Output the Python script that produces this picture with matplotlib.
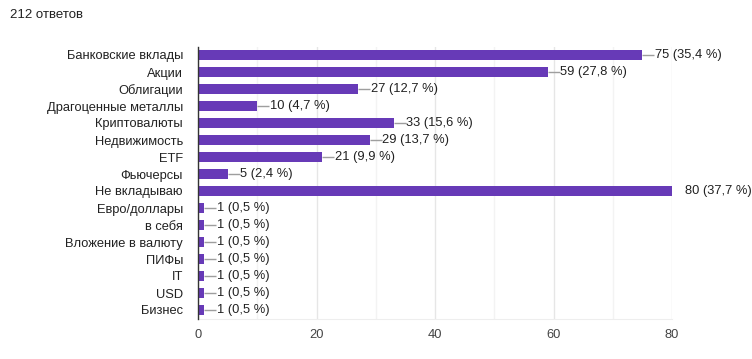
import matplotlib
matplotlib.use("Agg")
import matplotlib.pyplot as plt
from matplotlib.ticker import MultipleLocator

plt.rcParams['font.family'] = ['Liberation Sans', 'DejaVu Sans']

total_responses = 212
categories = ["Банковские вклады", "Акции", "Облигации", "Драгоценные металлы",
              "Криптовалюты", "Недвижимость", "ETF", "Фьючерсы", "Не вкладываю",
              "Евро/доллары", "в себя", "Вложение в валюту", "ПИФы", "IT", "USD", "Бизнес"]
counts = [75, 59, 27, 10, 33, 29, 21, 5, 80, 1, 1, 1, 1, 1, 1, 1]
x_ticks = [0, 20, 40, 60, 80]

W, H = 752, 359
fig = plt.figure(figsize=(W / 100, H / 100), dpi=100)
left, right = 198, 672
top, bottom = 46.5, 318.5
ax = fig.add_axes([left / W, 1 - bottom / H, (right - left) / W, (bottom - top) / H])

FS = 9.25
bar_color = "#673ab7"
y = list(range(len(categories)))
ax.barh(y, counts, height=0.63, color=bar_color, zorder=3)

ax.set_xlim(0, 80)
ax.set_ylim(len(categories) - 0.5, -0.5)

px_per_unit = (right - left) / 80
vmax = max(counts)
for yi, c in zip(y, counts):
    pct = c / total_responses * 100
    label = f"{c} ({pct:.1f} %)".replace(".", ",")
    gap = 12 / px_per_unit
    if c != vmax:
        ax.plot([c, c + gap], [yi, yi], color="#9e9e9e", lw=1, zorder=4,
                solid_capstyle="butt", clip_on=False)
    ax.text(c + gap + 0.1, yi, label, va="center", ha="left", fontsize=FS,
            color="#212121", zorder=5, clip_on=False)

ax.set_yticks(y)
ax.set_yticklabels(categories, fontsize=FS, color="#222222")
ax.set_xticks(x_ticks)
ax.set_xticklabels([str(t) for t in x_ticks], fontsize=FS, color="#444444")
ax.xaxis.set_minor_locator(MultipleLocator(10))
ax.tick_params(axis="both", which="both", length=0)
ax.tick_params(axis="y", pad=10.8)
ax.tick_params(axis="x", pad=7.5)

ax.grid(axis="x", which="major", color="#e6e6e6", lw=1, zorder=0)
ax.grid(axis="x", which="minor", color="#f3f3f3", lw=1, zorder=0)
for s in ["top", "right"]:
    ax.spines[s].set_visible(False)
ax.spines["bottom"].set_color("#eeeeee")
ax.spines["left"].set_color("#333333")
ax.spines["left"].set_linewidth(1)
ax.spines["left"].set_zorder(6)

fig.text(10 / W, 1 - 15 / H, f"{total_responses} ответов", fontsize=9.5,
         color="#212121", va="center", ha="left")

fig.savefig("out.png", dpi=100)
